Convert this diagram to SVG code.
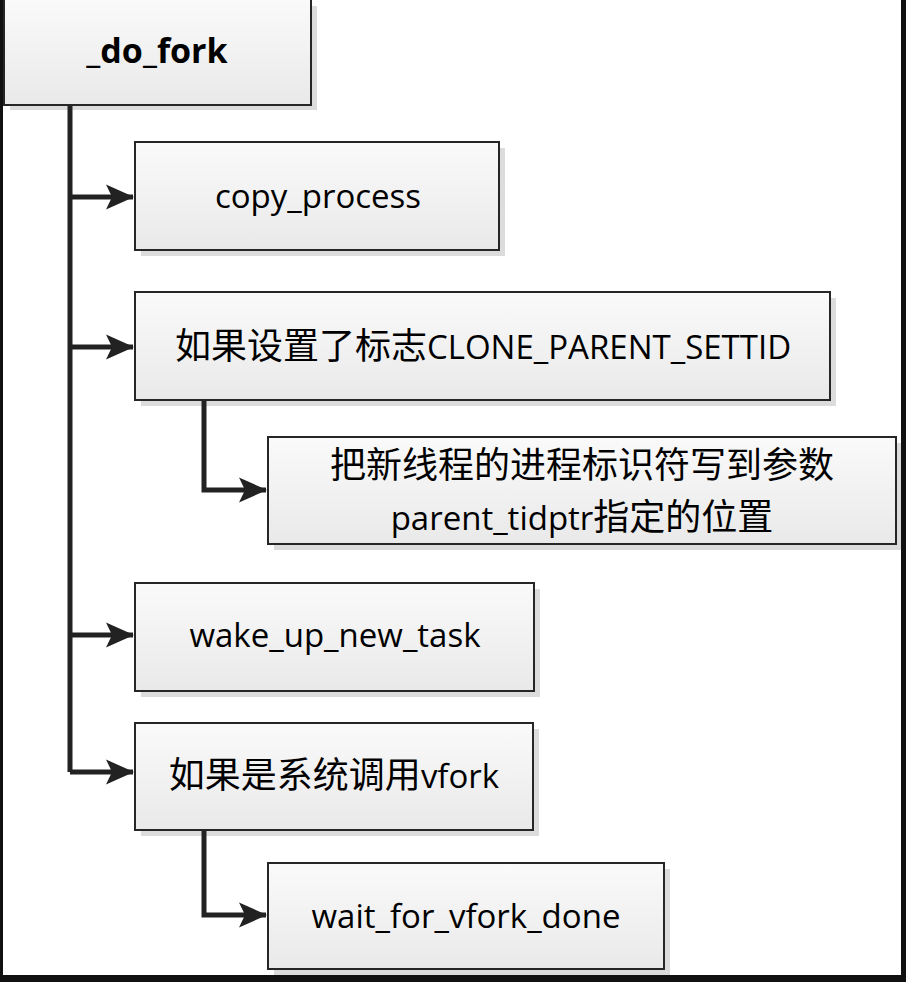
<svg xmlns="http://www.w3.org/2000/svg" width="906" height="982" viewBox="0 0 906 982">
<style>
.box{fill:url(#g);stroke:#262626;stroke-width:2}
.sh{fill:#dcdcdc}
.t{font-family:"Open Sans","Noto Sans CJK SC",sans-serif;font-size:33px;fill:#000;text-anchor:middle}
.k{font-family:"Noto Sans CJK SC",sans-serif;font-size:36px}
.c{fill:none;stroke:#222;stroke-width:5}
</style>
<defs>
<linearGradient id="g" x1="0" y1="0" x2="0" y2="1">
<stop offset="0" stop-color="#fafafa"/>
<stop offset="1" stop-color="#e9e9e9"/>
</linearGradient>
<marker id="a" markerWidth="7" markerHeight="7" refX="5.4" refY="3.5" orient="auto" markerUnits="strokeWidth">
<path d="M0,1 L5.6,3.5 L0,6 L1.2,3.5 Z" fill="#222"/>
</marker>
</defs>
<rect x="0" y="0" width="906" height="982" fill="#fff"/>
<g id="do_fork">
<rect class="sh" x="10" y="6" width="307" height="104"/>
<rect class="box" x="4" y="-1" width="307" height="106"/>
<text class="t" x="157" y="63" style="font-weight:bold;font-size:34px">_do_fork</text>
</g>
<g id="copy_process">
<rect class="sh" x="141" y="148" width="364" height="108"/>
<rect class="box" x="135" y="142" width="364" height="108"/>
<text class="t" x="318" y="208">copy_process</text>
</g>
<g id="clone_parent">
<rect class="sh" x="141" y="298" width="695" height="108"/>
<rect class="box" x="135" y="292" width="695" height="108"/>
<text class="t" x="483" y="359"><tspan class="k">如果设置了标志</tspan>CLONE_PARENT_SETTID</text>
</g>
<g id="write_tid">
<rect class="sh" x="274" y="443" width="628" height="107"/>
<rect class="box" x="268" y="437" width="628" height="107"/>
<text class="t k" x="582" y="478">把新线程的进程标识符写到参数</text>
<text class="t" x="582" y="530">parent_tidptr<tspan class="k">指定的位置</tspan></text>
</g>
<g id="wake_up_new_task">
<rect class="sh" x="141" y="589" width="399" height="108"/>
<rect class="box" x="135" y="583" width="399" height="108"/>
<text class="t" x="335" y="647">wake_up_new_task</text>
</g>
<g id="vfork">
<rect class="sh" x="141" y="729" width="398" height="107"/>
<rect class="box" x="135" y="723" width="398" height="107"/>
<text class="t" x="334" y="788"><tspan class="k">如果是系统调用</tspan>vfork</text>
</g>
<g id="wait_for_vfork_done">
<rect class="sh" x="274" y="869" width="396" height="106"/>
<rect class="box" x="268" y="863" width="396" height="106"/>
<text class="t" x="466" y="928">wait_for_vfork_done</text>
</g>
<g id="connectors">
<path class="c" d="M70,106 V772"/>
<path class="c" d="M70,197 H133" marker-end="url(#a)"/>
<path class="c" d="M70,347 H133" marker-end="url(#a)"/>
<path class="c" d="M70,635 H133" marker-end="url(#a)"/>
<path class="c" d="M70,772 H133" marker-end="url(#a)"/>
<path class="c" d="M204,401 V490 H266" marker-end="url(#a)"/>
<path class="c" d="M204,831 V915 H266" marker-end="url(#a)"/>
</g>
<g id="frame">
<rect x="0" y="0" width="3" height="982" fill="#111"/>
<rect x="901" y="0" width="5" height="982" fill="#111"/>
<rect x="0" y="975" width="906" height="7" fill="#111"/>
</g>
</svg>
